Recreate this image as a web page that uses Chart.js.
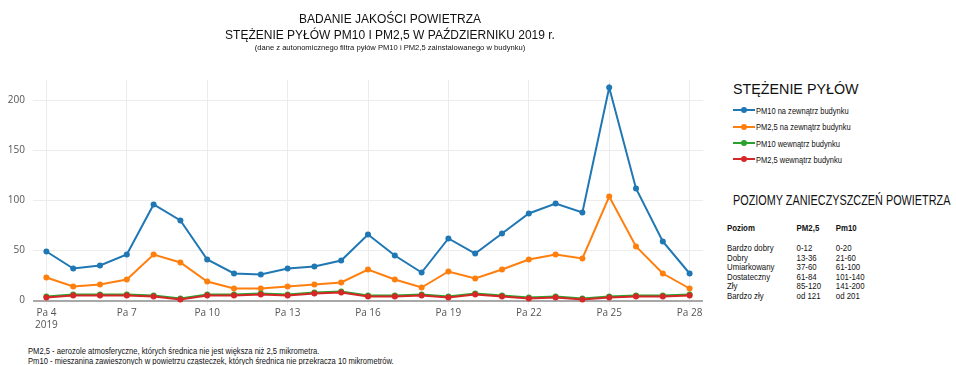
<!DOCTYPE html>
<html>
<head>
<meta charset="utf-8">
<script src="https://cdn.jsdelivr.net/npm/chart.js@4.4.1/dist/chart.umd.min.js"></script>
<style>
  body { margin: 0; background: #fff; width: 956px; height: 365px; position: relative; overflow: hidden; font-family: "Liberation Sans", Arial, sans-serif; color: #111; }
  #chart { position: absolute; left: 0; top: 0; }
  .t { position: absolute; white-space: nowrap; transform-origin: left top; }
  .title { left: 0; width: 780px; text-align: center; }
  .narrow { transform: scaleX(0.775); }
  .legend-item { position: absolute; left: 733px; font-size: 9.5px; white-space: nowrap; }
  .legend-item span.txt { display: inline-block; transform: scaleX(0.79); transform-origin: left center; }
  .mark { display: inline-block; position: relative; width: 22px; height: 2px; vertical-align: middle; margin-right: 1px; top: -1px; }
  .mark i { position: absolute; left: 8px; top: -2px; width: 6px; height: 6px; border-radius: 50%; background: inherit; }
  #levelsBox { position: absolute; left: 727px; top: 222px; transform: scaleX(0.8); transform-origin: left top; }
  table { border-collapse: collapse; font-size: 9.8px; }
  td { padding: 0; line-height: 9.6px; vertical-align: top; }
  th { padding: 0 0 10px 0; font-weight: bold; text-align: left; line-height: 11px; }
</style>
</head>
<body>
<canvas id="chart" width="710" height="330"></canvas>

<div class="t title" style="top:12px;font-size:12px;">BADANIE JAKOŚCI POWIETRZA</div>
<div class="t title" style="top:28px;font-size:12px;">STĘŻENIE PYŁÓW PM10 I PM2,5 W PAŹDZIERNIKU 2019 r.</div>
<div class="t title" style="top:43px;font-size:7.6px;">(dane z autonomicznego filtra pyłów PM10 i PM2,5 zainstalowanego w budynku)</div>

<div class="t" style="left:733px;top:81px;font-size:14.3px;">STĘŻENIE PYŁÓW</div>
<div id="legend"></div>

<div class="t narrow" style="left:733px;top:192px;font-size:14px;">POZIOMY ZANIECZYSZCZEŃ POWIETRZA</div>
<div id="levelsBox"><table id="levels"></table></div>

<div class="t" style="left:28px;top:346px;font-size:8.5px;transform:scaleX(0.895);">PM2,5 - aerozole atmosferyczne, których średnica nie jest większa niż 2,5 mikrometra.</div>
<div class="t" style="left:28px;top:356px;font-size:8.5px;transform:scaleX(0.895);">Pm10 - mieszanina zawieszonych w powietrzu cząsteczek, których średnica nie przekracza 10 mikrometrów.</div>

<script>
// dni pazdziernika 2019
var days = [4, 5, 6, 7, 8, 9, 10, 11, 12, 13, 14, 15, 16, 17, 18, 19, 20, 21, 22, 23, 24, 25, 26, 27, 28];
var pm10Out = [49, 32, 35, 46, 96, 80, 41, 27, 26, 32, 34, 40, 66, 45, 28, 62, 47, 67, 87, 97, 88, 213, 112, 59, 27];
var pm25Out = [23, 14, 16, 21, 46, 38, 19, 12, 12, 14, 16, 18, 31, 21, 13, 29, 22, 31, 41, 46, 42, 104, 54, 27, 12];
var pm10In = [4, 6, 6, 6, 5, 2, 6, 6, 7, 6, 8, 9, 5, 5, 6, 4, 7, 5, 3, 4, 2, 4, 5, 5, 6];
var pm25In = [3, 5, 5, 5, 4, 1, 5, 5, 6, 5, 7, 8, 4, 4, 5, 3, 6, 4, 2, 3, 1, 3, 4, 4, 5];

var xTicks = [4, 7, 10, 13, 16, 19, 22, 25, 28];
var yTicks = [0, 50, 100, 150, 200];

var seriesNames = ["PM10 na zewnątrz budynku", "PM2,5 na zewnątrz budynku", "PM10 wewnątrz budynku", "PM2,5 wewnątrz budynku"];
var seriesColors = ["#1f77b4", "#ff7f0e", "#2ca02c", "#d62728"];

// tabela poziomow
var levelNames = ["Bardzo dobry", "Dobry", "Umiarkowany", "Dostateczny", "Zły", "Bardzo zły"];
var levelPm25 = ["0-12", "13-36", "37-60", "61-84", "85-120", "od 121"];
var levelPm10 = ["0-20", "21-60", "61-100", "101-140", "141-200", "od 201"];

function toPoints(values) {
    return values.map(function (v, i) { return { x: days[i], y: v }; });
}

var allSeries = [pm10Out, pm25Out, pm10In, pm25In];
var datasets = [];
for (let i = 0; i < allSeries.length; i++) {
    datasets.push({
        label: seriesNames[i],
        data: toPoints(allSeries[i]),
        borderColor: seriesColors[i],
        backgroundColor: seriesColors[i],
        borderWidth: 2,
        pointRadius: 3,
        pointBorderWidth: 0,
        tension: 0,
        order: 4 - i   // ostatnia seria rysowana na wierzchu
    });
}

new Chart(document.getElementById("chart"), {
    type: "line",
    data: { datasets: datasets },
    options: {
        responsive: false,
        animation: false,
        layout: { padding: { top: 80, right: 7, left: 0, bottom: 0 } },
        plugins: { legend: { display: false }, tooltip: { enabled: false } },
        scales: {
            x: {
                type: "linear",
                min: 3.5,
                max: 28.5,
                afterBuildTicks: function (axis) {
                    axis.ticks = xTicks.map(function (v) { return { value: v }; });
                },
                afterFit: function (axis) { axis.height = 25; },
                border: { display: false },
                grid: { color: "#ececec", lineWidth: 1, drawTicks: false },
                ticks: {
                    padding: 2,
                    color: "#555",
                    font: { family: "Open Sans", size: 10 },
                    callback: function (v) { return v === 4 ? ["Pa 4", "2019"] : "Pa " + v; }
                }
            },
            y: {
                min: -4.5,
                max: 220.5,
                afterBuildTicks: function (axis) {
                    axis.ticks = yTicks.map(function (v) { return { value: v }; });
                },
                afterFit: function (axis) { axis.width = 33; },
                border: { display: false },
                grid: {
                    drawTicks: false,
                    color: function (ctx) { return ctx.tick && ctx.tick.value === 0 ? "#a8a8a8" : "#ececec"; },
                    lineWidth: function (ctx) { return ctx.tick && ctx.tick.value === 0 ? 2 : 1; }
                },
                ticks: {
                    padding: 8,
                    color: "#555",
                    font: { family: "Open Sans", size: 10 }
                }
            }
        }
    }
});

// legenda
var legend = document.getElementById("legend");
for (let i = 0; i < seriesNames.length; i++) {
    var item = document.createElement("div");
    item.className = "legend-item";
    item.style.top = (105 + i * 16.3) + "px";
    var mark = document.createElement("span");
    mark.className = "mark";
    mark.style.background = seriesColors[i];
    mark.append(document.createElement("i"));
    item.append(mark);
    var txt = document.createElement("span");
    txt.className = "txt";
    txt.textContent = seriesNames[i];
    item.append(txt);
    legend.append(item);
}

// tabela
var table = document.getElementById("levels");
var head = document.createElement("tr");
["Poziom", "PM2,5", "Pm10"].forEach(function (h, k) {
    var th = document.createElement("th");
    th.textContent = h;
    th.style.width = k === 0 ? "87px" : (k === 1 ? "49px" : "60px");
    head.append(th);
});
table.append(head);
for (let i = 0; i < levelNames.length; i++) {
    var tr = document.createElement("tr");
    [levelNames[i], levelPm25[i], levelPm10[i]].forEach(function (txt) {
        var td = document.createElement("td");
        td.textContent = txt;
        tr.append(td);
    });
    table.append(tr);
}
</script>
</body>
</html>
